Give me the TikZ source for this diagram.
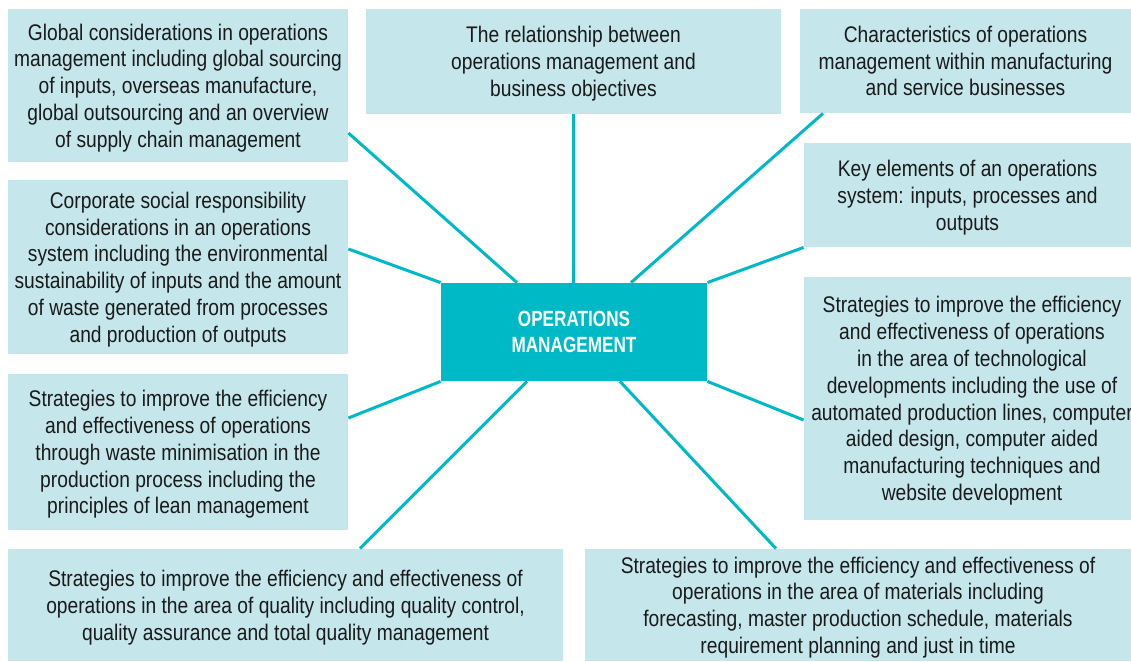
\documentclass[tikz,border=0pt]{standalone}
\usepackage{fontspec}
\setmainfont{Liberation Sans}[FakeStretch=0.85, BoldFeatures={FakeStretch=0.78}]
\definecolor{boxblue}{HTML}{C5E6EB}
\definecolor{omteal}{HTML}{00B9C6}
\definecolor{textdark}{HTML}{1A1A1A}
\begin{document}
\begin{tikzpicture}[x=0.5pt,y=-0.5pt,
  box/.style={fill=boxblue, inner sep=0pt, align=center, text=textdark,
    text depth=-1pt, font=\fontsize{11.3}{13.4}\selectfont},
  hub/.style={fill=omteal, inner sep=0pt, align=center, text=white,
    text depth=0pt, font=\fontsize{11}{13}\selectfont\bfseries},
  link/.style={draw=omteal, line width=1.5pt}]
\useasboundingbox (0,0) rectangle (1131,661);

\node[box, minimum width=170pt, minimum height=76.5pt] (g) at (178,85.5)
  {Global considerations in operations\\management including global sourcing\\of inputs, overseas manufacture,\\global outsourcing and an overview\\of supply chain management};
\node[box, minimum width=207.5pt, minimum height=52.5pt] (r) at (573.5,61.5)
  {The relationship between\\operations management and\\business objectives};
\node[box, minimum width=165.5pt, minimum height=52pt] (c) at (965.5,61)
  {Characteristics of operations\\management within manufacturing\\and service businesses};
\node[box, minimum width=163.5pt, minimum height=52pt] (k) at (967.5,195)
  {Key elements of an operations\\system: inputs, processes and\\outputs};
\node[box, minimum width=170pt, minimum height=87pt] (cs) at (178,267)
  {Corporate social responsibility\\considerations in an operations\\system including the environmental\\sustainability of inputs and the amount\\of waste generated from processes\\and production of outputs};
\node[hub, minimum width=133pt, minimum height=49pt] (m) at (574,332)
  {OPERATIONS\\MANAGEMENT};
\node[box, minimum width=168pt, minimum height=121.5pt] (t) at (972,398.5)
  {Strategies to improve the efficiency\\and effectiveness of operations\\in the area of technological\\developments including the use of\\automated production lines, computer\\aided design, computer aided\\manufacturing techniques and\\website development};
\node[box, minimum width=170pt, minimum height=78pt] (w) at (178,452)
  {Strategies to improve the efficiency\\and effectiveness of operations\\through waste minimisation in the\\production process including the\\principles of lean management};
\node[box, minimum width=277.5pt, minimum height=56pt] (q) at (285.5,605)
  {Strategies to improve the efficiency and effectiveness of\\operations in the area of quality including quality control,\\quality assurance and total quality management};
\node[box, minimum width=273pt, minimum height=56pt] (mat) at (858,605)
  {Strategies to improve the efficiency and effectiveness of\\operations in the area of materials including\\forecasting, master production schedule, materials\\requirement planning and just in time};

\draw[link] (g.east |- 0,133) -- (m.north -| 517,0);
\draw[link] (r.south) -- (r.south |- m.north);
\draw[link] (c.south -| 823,0) -- (m.north -| 631,0);
\draw[link] (k.south west) -- (m.north east);
\draw[link] (cs.east |- 0,249) -- (m.north west);
\draw[link] (w.east |- 0,418) -- (m.south west);
\draw[link] (t.west |- 0,420) -- (m.south east);
\draw[link] (q.north -| 360,0) -- (m.south -| 527,0);
\draw[link] (mat.north -| 776,0) -- (m.south -| 620,0);
\end{tikzpicture}
\end{document}
